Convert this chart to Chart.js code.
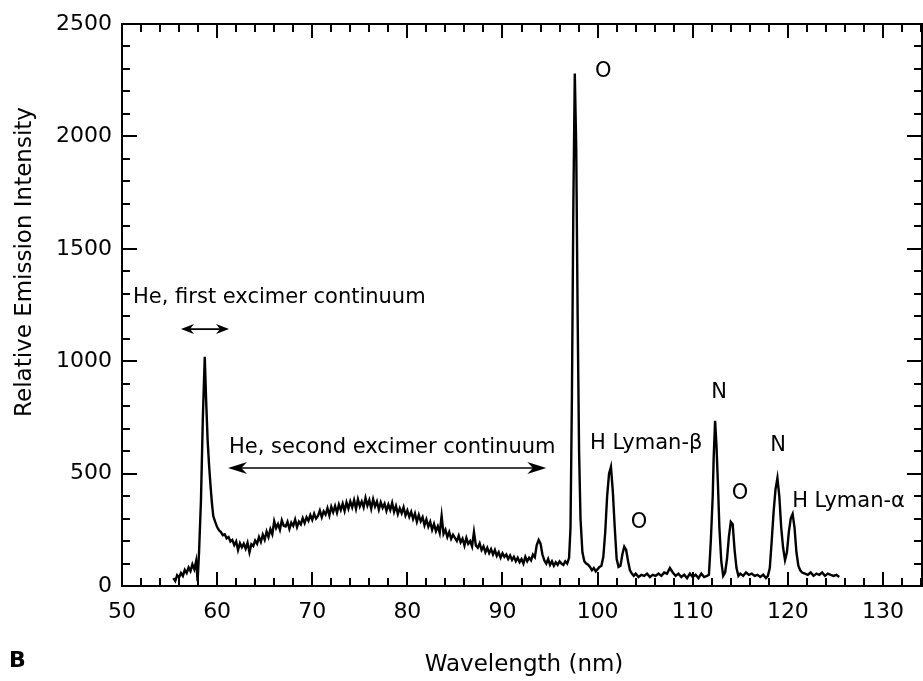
<!DOCTYPE html>
<html><head><meta charset="utf-8">
<style>html,body{margin:0;padding:0;background:#fff;}#wrap{width:923px;height:681px;}</style>
<script src="https://cdn.jsdelivr.net/npm/chart.js@4.4.1/dist/chart.umd.min.js"></script>
</head><body><div id="wrap"><canvas id="c" width="923" height="681"></canvas></div>
<script>
// ---- data ----
const wavelength = [
55.4,55.6,55.8,56.0,56.2,56.4,56.6,56.8,57.0,57.2,
57.4,57.6,57.8,57.95,58.1,58.3,58.5,58.7,58.85,59.0,
59.15,59.3,59.45,59.6,59.8,
60.0,60.2,60.4,60.6,60.8,61.0,61.2,61.4,61.6,61.8,
62.0,62.2,62.4,62.6,62.8,63.0,63.2,63.4,63.6,63.8,
64.0,64.2,64.4,64.6,64.8,65.0,65.2,65.4,65.6,65.8,
66.0,66.2,66.4,66.6,66.8,67.0,67.2,67.4,67.6,67.8,
68.0,68.2,68.4,68.6,68.8,69.0,69.2,69.4,69.6,69.8,
70.0,70.2,70.4,70.6,70.8,71.0,71.2,71.4,71.6,71.8,
72.0,72.2,72.4,72.6,72.8,73.0,73.2,73.4,73.6,73.8,
74.0,74.2,74.4,74.6,74.8,75.0,75.2,75.4,75.6,75.8,
76.0,76.2,76.4,76.6,76.8,77.0,77.2,77.4,77.6,77.8,
78.0,78.2,78.4,78.6,78.8,79.0,79.2,79.4,79.6,79.8,
80.0,80.2,80.4,80.6,80.8,81.0,81.2,81.4,81.6,81.8,
82.0,82.2,82.4,82.6,82.8,83.0,83.2,83.4,83.6,83.8,
84.0,84.2,84.4,84.6,84.8,85.0,85.2,85.4,85.6,85.8,
86.0,86.2,86.4,86.6,86.8,87.0,87.2,87.4,87.6,87.8,
88.0,88.2,88.4,88.6,88.8,89.0,89.2,89.4,89.6,89.8,
90.0,90.2,90.4,90.6,90.8,91.0,91.2,91.4,91.6,91.8,
92.0,92.2,92.4,92.6,92.8,93.0,93.2,93.4,93.6,93.8,
94.0,94.2,94.4,94.6,94.8,95.0,95.2,95.4,95.6,95.8,
96.0,96.2,96.4,96.6,96.8,
97.0,97.15,97.3,97.45,97.6,97.75,97.9,98.05,98.2,98.4,
98.6,98.8,99.0,99.2,99.4,99.6,99.8,100.0,100.2,100.4,
100.6,100.8,101.0,101.2,101.4,101.6,101.8,102.0,102.2,102.4,
102.6,102.8,103.0,103.2,103.4,103.6,103.8,104.0,104.3,104.6,
104.9,105.2,105.5,105.8,106.1,106.4,106.7,107.0,107.3,107.6,
107.9,108.2,108.5,108.8,109.1,109.4,109.7,110.0,110.3,110.6,
110.9,111.2,111.5,111.7,111.9,112.1,112.2,112.35,112.5,112.65,
112.8,113.0,113.2,113.4,113.6,113.8,114.0,114.2,114.4,114.6,
114.8,115.0,115.3,115.6,115.9,116.2,116.5,116.8,117.1,117.4,
117.7,117.9,118.1,118.3,118.5,118.7,118.9,119.1,119.3,119.5,
119.7,119.9,120.1,120.3,120.5,120.7,120.9,121.1,121.3,121.5,
121.8,122.1,122.4,122.7,123.0,123.3,123.6,123.9,124.2,124.5,
124.8,125.1,125.4
];
const intensity = [
35,22,48,38,58,45,72,58,82,66,
96,74,112,22,150,380,750,1020,820,650,
540,450,370,310,285,
262,248,240,226,230,212,218,198,205,182,
198,160,190,172,188,166,192,150,186,178,
202,188,218,196,228,206,242,218,252,230,
288,258,276,250,292,268,265,286,254,282,
268,296,262,286,274,302,280,306,290,316,
294,322,300,312,336,306,332,318,346,314,
352,328,356,326,362,338,366,334,372,344,
376,350,382,344,386,354,376,350,392,358,
382,344,386,354,376,340,372,348,366,334,
362,338,370,330,356,320,346,324,350,314,
336,308,330,298,322,286,316,288,306,270,
296,264,286,250,276,244,266,236,312,232,
250,218,240,210,228,214,200,224,194,210,
180,214,188,200,176,240,180,170,190,160,
176,150,170,146,164,140,160,134,150,126,
146,130,140,120,136,116,130,110,126,106,
120,100,130,110,126,114,140,128,182,205,
188,140,114,100,120,94,110,90,106,94,
110,100,94,110,100,
125,260,850,1700,2280,1950,1200,600,300,150,
110,100,95,85,70,80,65,75,85,90,
130,240,400,500,530,420,260,120,85,90,
140,175,160,110,70,55,45,55,40,50,
45,55,40,50,45,55,45,60,55,80,
60,45,55,40,50,35,55,40,50,35,
55,40,45,50,200,400,570,735,620,450,
260,110,45,60,120,220,285,275,160,80,
45,55,45,60,50,55,45,50,40,50,
35,45,80,200,330,430,480,400,260,170,
115,150,240,300,320,260,150,90,70,60,
55,50,60,45,55,50,60,45,55,50,
45,50,40
];
const xTickValues = [50,60,70,80,90,100,110,120,130];
const yTickValues = [0,500,1000,1500,2000,2500];
const xTitle = 'Wavelength (nm)';
const yTitle = 'Relative Emission Intensity';
const panelLabel = 'B';
// annotation labels: x = wavelength, y = intensity at text baseline
const labels = [
  {text:'He, first excimer continuum', x:51.16, y:1259, align:'left'},
  {text:'He, second excimer continuum', x:61.25, y:592, align:'left'},
  {text:'O', x:100.58, y:2264, align:'center'},
  {text:'H Lyman-\u03B2', x:99.21, y:609, align:'left'},
  {text:'O', x:104.36, y:258, align:'center'},
  {text:'N', x:112.78, y:836, align:'center'},
  {text:'O', x:114.98, y:387, align:'center'},
  {text:'N', x:118.98, y:601, align:'center'},
  {text:'H Lyman-\u03B1', x:120.45, y:351, align:'left'}
];
const arrows = [
  {x1:56.2, x2:61.25, y:1143, head:13, half:5},
  {x1:61.15, x2:94.6, y:525, head:19, half:6}
];

const FONT = '"DejaVu Sans", "Liberation Sans", Arial, sans-serif';

function arrowHead(ctx, tipX, y, dir, len, half){
  ctx.beginPath();
  ctx.moveTo(tipX, y);
  ctx.lineTo(tipX + dir*len, y - half);
  ctx.lineTo(tipX + dir*len*0.7, y);
  ctx.lineTo(tipX + dir*len, y + half);
  ctx.closePath();
  ctx.fill();
}

const framePlugin = {
  id:'frame',
  afterDraw(chart){
    const {ctx, chartArea:a, scales:{x, y}} = chart;
    ctx.save();
    ctx.strokeStyle = '#000'; ctx.fillStyle = '#000';
    ctx.lineWidth = 2;
    ctx.strokeRect(a.left, a.top, a.right - a.left, a.bottom - a.top);
    ctx.beginPath();
    for (let v = 50; v <= x.max; v += 2){
      const px = Math.round(x.getPixelForValue(v));
      const L = (v % 10 === 0) ? 14 : 8;
      ctx.moveTo(px, a.bottom); ctx.lineTo(px, a.bottom - L);
      ctx.moveTo(px, a.top); ctx.lineTo(px, a.top + L);
    }
    for (let v = 0; v <= 2500; v += 100){
      const py = Math.round(y.getPixelForValue(v));
      const L = (v % 500 === 0) ? 15 : 8;
      ctx.moveTo(a.left, py); ctx.lineTo(a.left + L, py);
      ctx.moveTo(a.right, py); ctx.lineTo(a.right - L, py);
    }
    ctx.stroke();

    // arrows
    ctx.lineWidth = 1.7;
    arrows.forEach(ar => {
      const x1 = x.getPixelForValue(ar.x1), x2 = x.getPixelForValue(ar.x2), py = y.getPixelForValue(ar.y);
      ctx.beginPath(); ctx.moveTo(x1 + 4, py); ctx.lineTo(x2 - 4, py); ctx.stroke();
      arrowHead(ctx, x1, py, 1, ar.head, ar.half);
      arrowHead(ctx, x2, py, -1, ar.head, ar.half);
    });

    // annotation labels
    ctx.font = '21px ' + FONT;
    ctx.textBaseline = 'alphabetic';
    labels.forEach(l => {
      ctx.textAlign = l.align;
      ctx.fillText(l.text, x.getPixelForValue(l.x), y.getPixelForValue(l.y));
    });

    // axis titles
    ctx.font = '23px ' + FONT;
    ctx.textAlign = 'center';
    ctx.fillText(xTitle, (a.left + a.right) / 2 + 2, 671);
    ctx.save();
    ctx.translate(31, 262);
    ctx.rotate(-Math.PI / 2);
    ctx.fillText(yTitle, 0, 0);
    ctx.restore();

    ctx.font = 'bold 22px ' + FONT;
    ctx.textAlign = 'left';
    ctx.fillText(panelLabel, 9, 667);
    ctx.restore();
  }
};

new Chart(document.getElementById('c'), {
  type:'line',
  data:{
    datasets:[{
      data: wavelength.map((w, i) => ({x:w, y:intensity[i]})),
      borderColor:'#000', backgroundColor:'#000',
      borderWidth:2.4, pointRadius:0, tension:0, fill:false
    }]
  },
  options:{
    responsive:false, animation:false, devicePixelRatio:1,
    layout:{padding:{top:24, right:1, left:0, bottom:0}},
    plugins:{legend:{display:false}, tooltip:{enabled:false}, title:{display:false}},
    scales:{
      x:{
        type:'linear', position:'bottom', min:50, max:134.1,
        grid:{display:false, drawTicks:false}, border:{display:false},
        ticks:{color:'#000', font:{family:FONT, size:22}, padding:13, maxRotation:0, autoSkip:false,
               callback:(v) => String(v)},
        afterBuildTicks(s){ s.ticks = xTickValues.map(v => ({value:v})); },
        afterFit(s){ s.height = 95; }
      },
      y:{
        type:'linear', min:0, max:2500,
        grid:{display:false, drawTicks:false}, border:{display:false},
        ticks:{color:'#000', font:{family:FONT, size:22}, padding:10, callback:(v) => String(v)},
        afterBuildTicks(s){ s.ticks = yTickValues.map(v => ({value:v})); },
        afterFit(s){ s.width = 122; }
      }
    }
  },
  plugins:[framePlugin]
});
</script></body></html>
